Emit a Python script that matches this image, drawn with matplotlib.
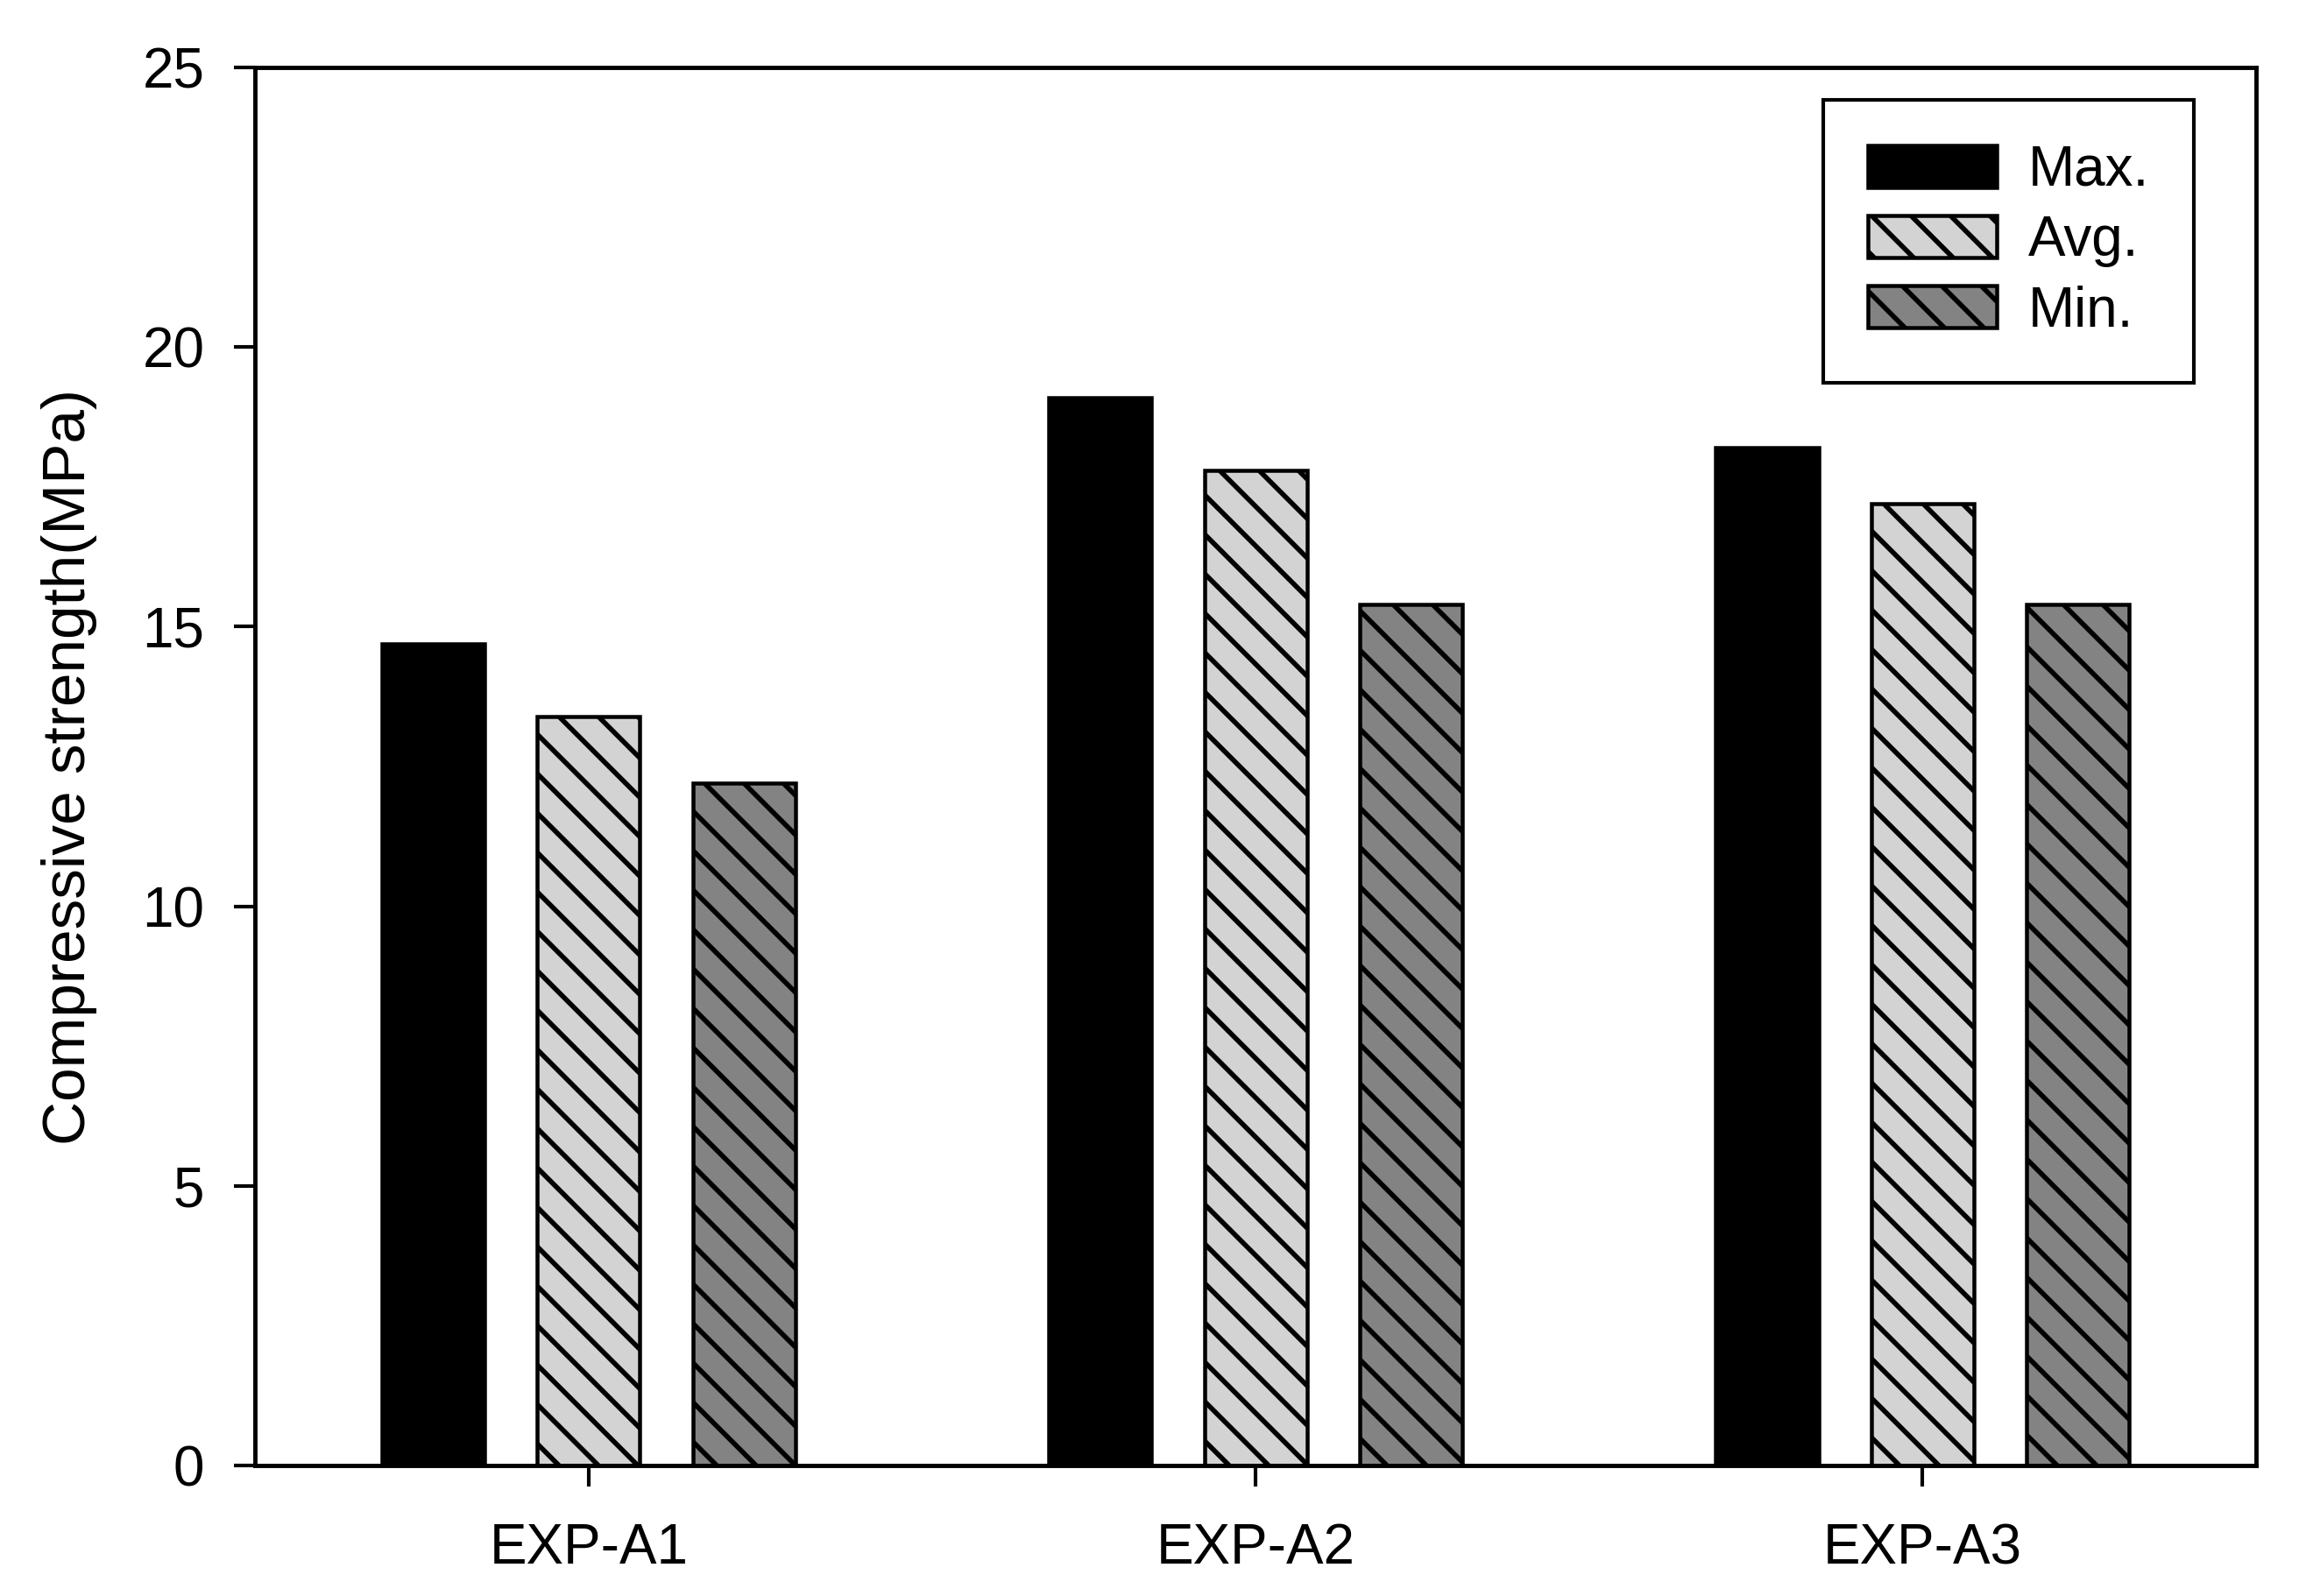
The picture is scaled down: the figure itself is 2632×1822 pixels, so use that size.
import matplotlib

matplotlib.use("Agg")
import matplotlib.pyplot as plt
import numpy as np

groups = ["EXP-A1", "EXP-A2", "EXP-A3"]
series_names = ["Max.", "Avg.", "Min."]
max_vals = [14.7, 19.1, 18.2]
avg_vals = [13.4, 17.8, 17.2]
min_vals = [12.2, 15.4, 15.4]
y_ticks = [0, 5, 10, 15, 20, 25]

plt.rcParams["font.family"] = ["Liberation Sans", "DejaVu Sans"]
plt.rcParams["hatch.linewidth"] = 1.5
plt.rcParams["hatch.color"] = "black"

DPI = 270
fig = plt.figure(figsize=(2632 / DPI, 1822 / DPI), dpi=DPI)
ax = fig.add_axes([0.1106, 0.0818, 0.8678, 0.8759])

x = np.arange(len(groups))
width = 0.154
offset = 0.233
styles = [
    dict(color="black", edgecolor="black", hatch=None),
    dict(color="#d3d3d3", edgecolor="black", hatch="\\\\"),
    dict(color="#838383", edgecolor="black", hatch="\\\\"),
]
for i, (name, vals, st) in enumerate(zip(series_names, [max_vals, avg_vals, min_vals], styles)):
    ax.bar(x + (i - 1) * offset, vals, width, label=name, linewidth=1.2, **st)

ax.set_xlim(-0.5, 2.5)
ax.set_ylim(0, 25)
ax.set_xticks(x)
ax.set_xticklabels(groups)
ax.set_yticks(y_ticks)
ax.tick_params(axis="both", direction="out", length=6.4, width=1.1, labelsize=17)
ax.tick_params(axis="x", pad=11)
ax.tick_params(axis="y", pad=9)
for sp in ax.spines.values():
    sp.set_linewidth(1.3)

ax.set_ylabel("Compressive strength(MPa)", fontsize=18.5)
ax.yaxis.set_label_coords(-0.079, 0.5)

leg = ax.legend(loc="upper right", bbox_to_anchor=(0.969, 0.977), fontsize=17,
                frameon=True, fancybox=False, edgecolor="black", framealpha=1,
                handlelength=2.3, handleheight=0.78, handletextpad=0.57,
                labelspacing=0.32, borderpad=0.8, borderaxespad=0)
leg.get_frame().set_linewidth(1.1)

fig.savefig("out.png", dpi=DPI)
